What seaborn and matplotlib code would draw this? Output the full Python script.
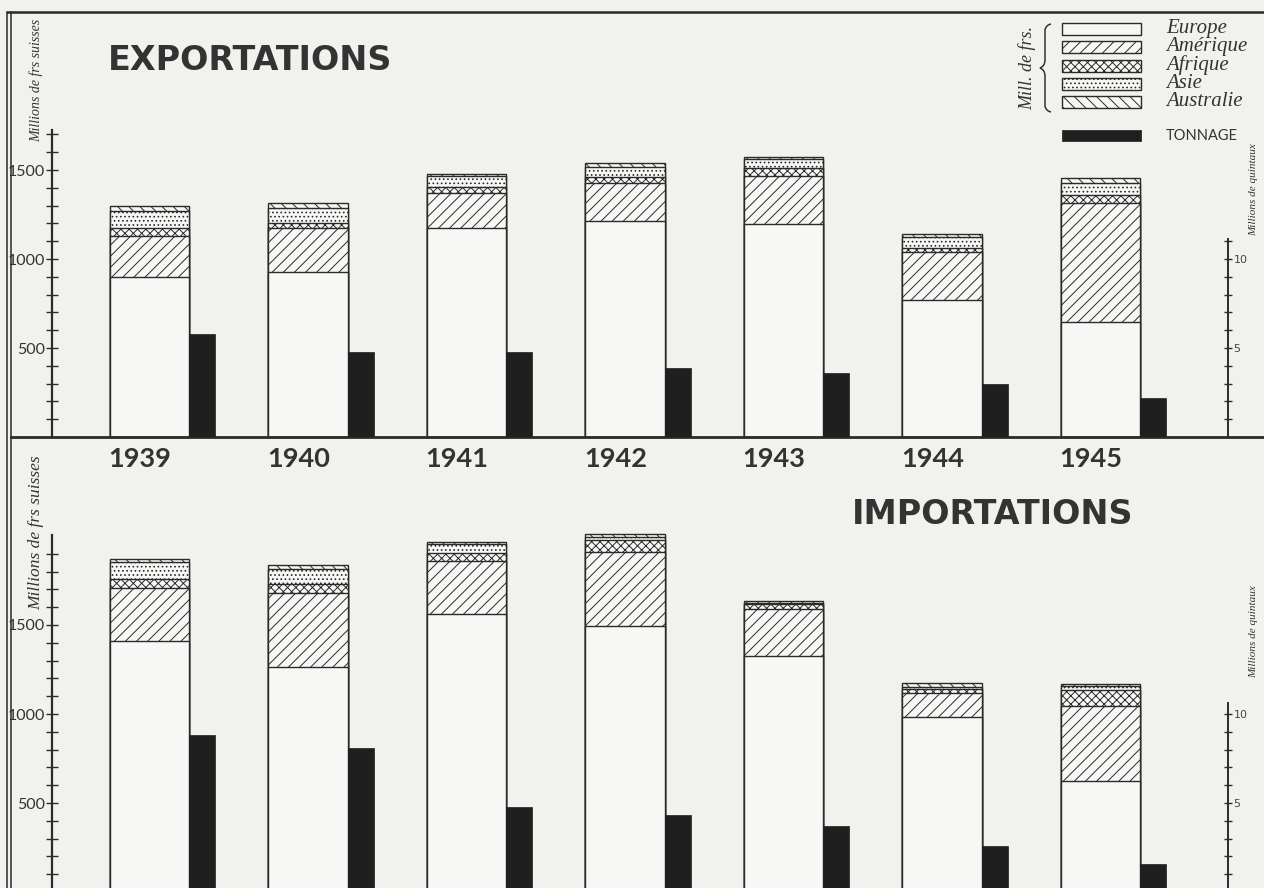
import numpy as np
import pandas as pd
import matplotlib.pyplot as plt
import seaborn as sns
from matplotlib.ticker import FixedLocator
from matplotlib.lines import Line2D
from matplotlib.patches import Rectangle, PathPatch
from matplotlib.path import Path
import matplotlib.transforms as mtransforms

# -----------------------------------------------------------------------------
# DATA (Swiss foreign trade by continent, millions of francs / tonnage)
# -----------------------------------------------------------------------------
years = [1939, 1940, 1941, 1942, 1943, 1944, 1945]
regions = ["Europe", "Amérique", "Afrique", "Asie", "Australie"]

exp_europe = [900, 927, 1175, 1215, 1197, 770, 646]
exp_amerique = [229, 247, 195, 210, 269, 268, 669]
exp_afrique = [45, 28, 35, 37, 43, 22, 45]
exp_asie = [96, 85, 60, 56, 51, 65, 67]
exp_australie = [28, 28, 15, 19, 15, 15, 28]
exp_tonnage = [5.8, 4.8, 4.8, 3.9, 3.6, 3.0, 2.2]

imp_europe = [1410, 1266, 1560, 1494, 1326, 983, 624]
imp_amerique = [296, 412, 301, 418, 262, 135, 421]
imp_afrique = [50, 52, 45, 66, 30, 20, 88]
imp_asie = [100, 83, 49, 18, 8, 12, 22]
imp_australie = [13, 24, 11, 15, 11, 24, 14]
imp_tonnage = [8.8, 8.1, 4.8, 4.3, 3.7, 2.6, 1.6]

# -----------------------------------------------------------------------------
# STYLE
# -----------------------------------------------------------------------------
W, H = 1264, 888
PAPER = "#f1f1ee"
FACE = "#f7f7f5"
INK = "#2a2a2a"
TON = "#1f1f1f"
HATCHES = {"Europe": "", "Amérique": "///", "Afrique": "xxxx",
           "Asie": "....", "Australie": "\\\\\\"}

sns.set_style("white")
plt.rcParams["hatch.linewidth"] = 0.7
plt.rcParams["hatch.color"] = INK
SERIF_IT = dict(family=["Liberation Serif", "DejaVu Serif"], style="italic")
SANS = ["Lato", "DejaVu Sans"]
TITLE_FONT = ["DejaVu Sans"]


def fx(px):
    return px / W


def fy(py):
    return 1 - py / H


# pixel column of a bar centre -> year coordinate
X0, DX = 149.5, 158.5


def px_to_year(px):
    return years[0] + (px - X0) / DX


fig = plt.figure(figsize=(W / 100, H / 100), dpi=100)
fig.patch.set_facecolor(PAPER)


def draw_panel(ax, regional, tonnage, ylim, axis_top, q_top, q_minor):
    df = pd.DataFrame({"year": years, **dict(zip(regions, regional))})
    cum = df[regions].cumsum(axis=1)
    # overlay cumulative totals, tallest first, to build the stacks
    for name in reversed(regions):
        sns.barplot(x=df["year"], y=cum[name], native_scale=True, width=0.5,
                    color=FACE, saturation=1, edgecolor=INK, linewidth=1.0,
                    hatch=HATCHES[name], errorbar=None, orient="x", ax=ax)
    ax2 = ax.twinx()
    sns.barplot(x=df["year"] + 0.332, y=tonnage, native_scale=True, width=0.164,
                color=TON, saturation=1, edgecolor=TON, linewidth=0.5,
                errorbar=None, orient="x", ax=ax2)

    ax.set_ylim(*ylim)
    ax2.set_ylim(ylim[0] / 100, ylim[1] / 100)
    ax.set_xlim(px_to_year(11), px_to_year(1264))
    ax.patch.set_alpha(0)
    ax2.patch.set_alpha(0)

    for a in (ax, ax2):
        for s in a.spines.values():
            s.set_visible(False)
        a.set_xticks([])
        a.set_xlabel("")
        a.set_ylabel("")

    sp = ax.spines["left"]
    sp.set_visible(True)
    sp.set_position(("data", px_to_year(52)))
    sp.set_bounds(0, axis_top)
    sp.set_linewidth(1.6)
    sp.set_color(INK)
    ax.yaxis.set_major_locator(FixedLocator([500, 1000, 1500]))
    ax.yaxis.set_minor_locator(FixedLocator(
        [v for v in range(100, int(axis_top) + 1, 100) if v % 500]))
    ax.tick_params(axis="y", which="both", direction="inout", length=8,
                   width=1.0, color=INK, labelsize=11.5, labelcolor="#333333", pad=1)
    for lab in ax.get_yticklabels():
        lab.set_family(SANS)

    sp2 = ax2.spines["right"]
    sp2.set_visible(True)
    sp2.set_position(("data", px_to_year(1228)))
    sp2.set_bounds(0, q_top)
    sp2.set_linewidth(1.4)
    sp2.set_color(INK)
    ax2.yaxis.set_major_locator(FixedLocator([5, 10]))
    ax2.yaxis.set_minor_locator(FixedLocator(q_minor))
    ax2.tick_params(axis="y", which="both", direction="inout", length=6,
                    width=1.0, color=INK, labelsize=8, labelcolor="#444444", pad=1)
    return ax2


# top panel: exportations
ax_top = fig.add_axes([fx(11), fy(437), fx(1264) - fx(11), (437 - 12) / H])
draw_panel(ax_top,
           [exp_europe, exp_amerique, exp_afrique, exp_asie, exp_australie],
           exp_tonnage, (0, 425 / 0.178), 1725, 11.1,
           [1, 2, 3, 4, 6, 7, 8, 9, 11])
ax_top.spines["bottom"].set_visible(True)
ax_top.spines["bottom"].set_linewidth(2.0)
ax_top.spines["bottom"].set_color(INK)

# bottom panel: importations (baseline lies just below the picture edge)
ax_bot = fig.add_axes([fx(11), 0, fx(1264) - fx(11), (888 - 476) / H])
draw_panel(ax_bot,
           [imp_europe, imp_amerique, imp_afrique, imp_asie, imp_australie],
           imp_tonnage, (4 / 0.178, 4 / 0.178 + 412 / 0.178), 2005, 10.6,
           [1, 2, 3, 4, 6, 7, 8, 9])

# year labels under the top panel
blend = mtransforms.blended_transform_factory(ax_top.transData, ax_top.transAxes)
for yr in years:
    ax_top.text(yr - 0.26, -0.052, str(yr), transform=blend, ha="left",
                va="center", fontsize=19.5, fontweight="bold", family=SANS,
                color="#333333")

# titles
fig.text(fx(108), fy(60), "EXPORTATIONS", ha="left", va="center", fontsize=24,
         fontweight="bold", family=TITLE_FONT, color="#333333")
fig.text(fx(1133), fy(515), "IMPORTATIONS", ha="right", va="center", fontsize=24,
         fontweight="bold", family=TITLE_FONT, color="#333333")

# axis captions
fig.text(fx(36), fy(80), "Millions de frs suisses", rotation=90, ha="center",
         va="center", fontsize=10, color="#333333", **SERIF_IT)
fig.text(fx(36), fy(533), "Millions de frs suisses", rotation=90, ha="center",
         va="center", fontsize=12.5, color="#333333", **SERIF_IT)
fig.text(fx(1254), fy(190), "Millions de quintaux", rotation=90, ha="center",
         va="center", fontsize=8, color="#333333", **SERIF_IT)
fig.text(fx(1254), fy(632), "Millions de quintaux", rotation=90, ha="center",
         va="center", fontsize=8, color="#333333", **SERIF_IT)

# legend drawn in figure pixels
legend_rows = [29, 47, 66, 84, 102]
for name, yc in zip(regions, legend_rows):
    fig.add_artist(Rectangle((fx(1062), fy(yc + 6)), fx(79), 12 / H,
                             transform=fig.transFigure, facecolor=FACE,
                             edgecolor=INK, linewidth=1.0, hatch=HATCHES[name]))
    fig.text(fx(1166), fy(yc - 1), name, ha="left", va="center", fontsize=15,
             color="#333333", **SERIF_IT)
fig.add_artist(Rectangle((fx(1062), fy(141)), fx(79), 11 / H,
                         transform=fig.transFigure, facecolor=TON,
                         edgecolor=TON, linewidth=0.5))
fig.text(fx(1166), fy(136), "TONNAGE", ha="left", va="center", fontsize=10.5,
         family=SANS, color="#333333")
fig.text(fx(1027), fy(68), "Mill. de frs.", rotation=90, ha="center", va="center",
         fontsize=13, color="#333333", **SERIF_IT)

# thin curly brace beside the caption
brace_px = [(1051, 24), (1046, 25), (1045, 30), (1045, 40),
            (1045, 60), (1045, 66), (1040, 68),
            (1045, 70), (1045, 76), (1045, 96),
            (1045, 106), (1046, 111), (1051, 112)]
brace_codes = [Path.MOVETO, Path.CURVE3, Path.CURVE3, Path.LINETO,
               Path.LINETO, Path.CURVE3, Path.CURVE3,
               Path.CURVE3, Path.CURVE3, Path.LINETO,
               Path.LINETO, Path.CURVE3, Path.CURVE3]
brace = Path([(fx(a), fy(b)) for a, b in brace_px], brace_codes)
fig.add_artist(PathPatch(brace, transform=fig.transFigure, facecolor="none",
                         edgecolor="#333333", linewidth=1.1))

# frame of the plate
for xp in (7, 11):
    fig.add_artist(Line2D([fx(xp), fx(xp)], [fy(12), 0], transform=fig.transFigure,
                          color=INK, linewidth=1.1))
fig.add_artist(Line2D([fx(7), 1], [fy(12), fy(12)], transform=fig.transFigure,
                      color=INK, linewidth=1.8))

fig.savefig("out.png", dpi=100, facecolor=PAPER)
plt.close(fig)
